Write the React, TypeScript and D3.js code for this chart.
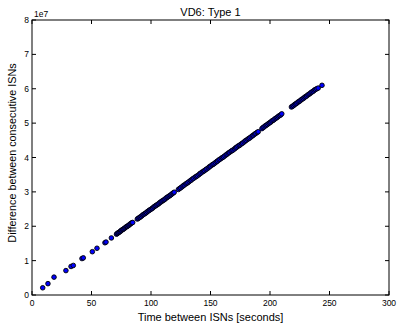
import React from "react";
import * as d3 from "d3";

const title = "VD6: Type 1";
const xLabel = "Time between ISNs [seconds]";
const yLabel = "Difference between consecutive ISNs";
const xTicks = [0, 50, 100, 150, 200, 250, 300];
const yTicks = [0, 1, 2, 3, 4, 5, 6, 7, 8];

// time between ISNs (seconds)
const times: number[] = [
  9.0, 13.4, 18.5, 28.5, 32.8, 34.7, 42.0, 43.1, 50.7, 54.6, 61.3, 62.2, 66.7,
  71.0, 71.7, 72.4, 73.0, 73.8, 74.5, 75.1, 75.9, 76.6, 77.3, 78.0, 78.8, 79.5, 80.2, 81.0, 81.7, 82.4, 83.1, 83.9, 84.6,
  88.5, 89.3, 90.2, 91.0, 91.9, 92.8, 93.6, 94.5, 95.4, 96.2, 97.1, 98.0, 98.8, 99.7, 100.6, 101.4, 102.3, 103.2, 104.0,
  104.9, 105.8, 106.6, 107.5, 108.4, 109.2, 110.1, 111.0, 111.8, 112.7, 113.6, 114.4, 115.3, 116.2, 117.0, 117.9, 118.8, 119.5,
  123.0, 124.1, 125.0, 126.2, 127.1, 128.0, 129.2, 130.1, 131.0, 132.1, 133.2, 134.0, 135.1, 136.0, 137.2, 138.1, 139.0,
  140.2, 141.1, 142.0, 143.1, 144.2, 145.0, 146.1, 147.0, 148.2, 149.1, 150.0, 151.2, 152.1, 153.0, 154.1, 155.2, 156.0,
  157.1, 158.0, 159.2, 160.1, 161.0, 162.1, 163.2, 164.0, 165.1, 166.0, 167.2, 168.1, 169.0, 170.2, 171.1, 172.0, 173.1,
  174.2, 175.0, 176.1, 177.0, 178.2, 179.1, 180.0, 181.2, 182.1, 183.0, 184.1, 185.2, 186.0, 187.1, 188.0, 189.2, 190.1,
  193.2, 194.1, 195.0, 196.0, 196.9, 197.8, 198.8, 199.7, 200.6, 201.5, 202.5, 203.4, 204.3, 205.3, 206.2, 207.1, 208.1, 209.0, 209.9,
  218.0, 218.9, 219.8, 220.7, 221.6, 222.5, 223.5, 224.4, 225.3, 226.2, 227.1, 228.1, 229.0, 229.9, 230.8, 231.8, 232.7, 233.6,
  234.5, 235.4, 236.4, 237.3, 238.2, 239.3, 240.5,
  243.7,
];

// difference between consecutive ISNs (x 1e7)
const diffs: number[] = [
  0.21, 0.33, 0.52, 0.71, 0.83, 0.86, 1.06, 1.08, 1.26, 1.36, 1.52, 1.54, 1.66,
  1.77, 1.79, 1.81, 1.82, 1.84, 1.86, 1.88, 1.90, 1.91, 1.93, 1.95, 1.97, 1.99, 2.00, 2.02, 2.04, 2.06, 2.08, 2.10, 2.11,
  2.21, 2.23, 2.25, 2.27, 2.29, 2.32, 2.34, 2.36, 2.38, 2.40, 2.43, 2.45, 2.47, 2.49, 2.51, 2.53, 2.56, 2.58, 2.60,
  2.62, 2.64, 2.66, 2.69, 2.71, 2.73, 2.75, 2.77, 2.79, 2.82, 2.84, 2.86, 2.88, 2.90, 2.92, 2.95, 2.97, 2.99,
  3.07, 3.10, 3.12, 3.15, 3.18, 3.20, 3.23, 3.25, 3.27, 3.30, 3.33, 3.35, 3.38, 3.40, 3.43, 3.45, 3.47,
  3.50, 3.53, 3.55, 3.58, 3.60, 3.62, 3.65, 3.67, 3.70, 3.73, 3.75, 3.78, 3.80, 3.82, 3.85, 3.88, 3.90,
  3.93, 3.95, 3.98, 4.00, 4.02, 4.05, 4.08, 4.10, 4.13, 4.15, 4.18, 4.20, 4.22, 4.25, 4.28, 4.30, 4.33,
  4.35, 4.37, 4.40, 4.42, 4.45, 4.48, 4.50, 4.53, 4.55, 4.57, 4.60, 4.63, 4.65, 4.68, 4.70, 4.73, 4.75,
  4.84, 4.87, 4.89, 4.92, 4.94, 4.96, 4.99, 5.01, 5.03, 5.06, 5.08, 5.10, 5.13, 5.15, 5.17, 5.20, 5.22, 5.24, 5.27,
  5.47, 5.49, 5.51, 5.54, 5.56, 5.58, 5.61, 5.63, 5.65, 5.68, 5.70, 5.72, 5.75, 5.77, 5.79, 5.82, 5.84, 5.86,
  5.89, 5.91, 5.93, 5.96, 5.98, 6.00, 6.02,
  6.10,
];

const W = 397;
const H = 327;
const M = { left: 32, right: 389, top: 20, bottom: 295 };
const FONT = "'Liberation Sans', Arial, Helvetica, sans-serif";

export default function App() {
  const x = d3.scaleLinear().domain([0, 300]).range([M.left, M.right]);
  const y = d3.scaleLinear().domain([0, 8]).range([M.bottom, M.top]);
  const tl = 4;
  return (
    <svg
      width={W}
      height={H}
      style={{ position: "absolute", left: 0, top: 0, background: "#fff" }}
      fontFamily={FONT}
    >
      {/* points */}
      <g>
        {times.map((t, i) => (
          <circle
            key={i}
            cx={x(t)}
            cy={y(diffs[i])}
            r={2.3}
            fill="#0000ff"
            stroke="#000"
            strokeWidth={0.9}
          />
        ))}
      </g>
      {/* frame */}
      <rect
        x={M.left}
        y={M.top}
        width={M.right - M.left}
        height={M.bottom - M.top}
        fill="none"
        stroke="#000"
        strokeWidth={1}
      />
      {/* x ticks */}
      {xTicks.map((v) => (
        <g key={"x" + v}>
          <line x1={x(v)} x2={x(v)} y1={M.bottom} y2={M.bottom - tl} stroke="#000" />
          <line x1={x(v)} x2={x(v)} y1={M.top} y2={M.top + tl} stroke="#000" />
          <text x={x(v)} y={M.bottom + 11} fontSize={8.5} textAnchor="middle" fill="#000">
            {v}
          </text>
        </g>
      ))}
      {/* y ticks */}
      {yTicks.map((v) => (
        <g key={"y" + v}>
          <line x1={M.left} x2={M.left + tl} y1={y(v)} y2={y(v)} stroke="#000" />
          <line x1={M.right} x2={M.right - tl} y1={y(v)} y2={y(v)} stroke="#000" />
          <text x={M.left - 3} y={y(v) + 3} fontSize={8.5} textAnchor="end" fill="#000">
            {v}
          </text>
        </g>
      ))}
      <text x={M.left + 2} y={M.top - 3} fontSize={8.5} fill="#000">
        1e7
      </text>
      <text x={(M.left + M.right) / 2} y={M.top - 4} fontSize={11} textAnchor="middle" fill="#000">
        {title}
      </text>
      <text x={(M.left + M.right) / 2} y={321} fontSize={11} textAnchor="middle" fill="#000">
        {xLabel}
      </text>
      <text
        transform={`translate(16,153) rotate(-90)`}
        fontSize={10.8}
        textAnchor="middle"
        fill="#000"
      >
        {yLabel}
      </text>
    </svg>
  );
}
